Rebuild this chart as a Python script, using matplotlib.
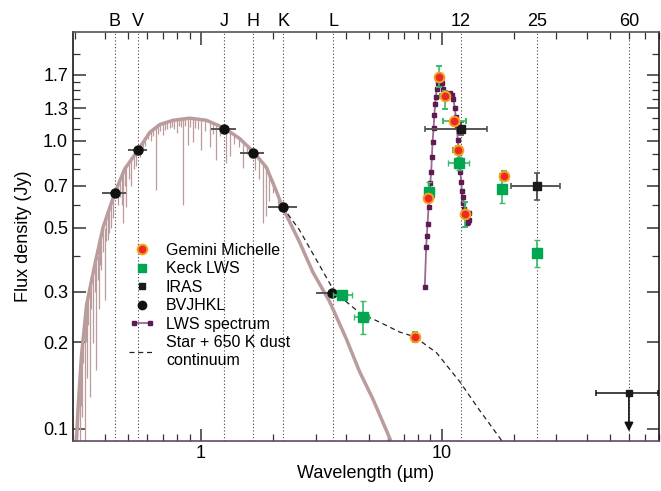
import numpy as np
import matplotlib.pyplot as plt
from matplotlib.lines import Line2D
from matplotlib.legend_handler import HandlerLine2D
from matplotlib.ticker import FixedLocator, FixedFormatter, NullFormatter

plt.rcParams['font.family'] = ['Liberation Sans', 'DejaVu Sans']

# stellar photosphere (centre of the band)
star_wl = [0.290, 0.300, 0.310, 0.320, 0.336, 0.363, 0.393, 0.440, 0.484, 0.550, 0.614,
           0.676, 0.768, 0.900, 1.056, 1.250, 1.451, 1.650, 1.874, 2.061, 2.195, 2.575,
           2.925, 3.430, 4.020, 4.570, 5.190, 6.090, 7.000]
star_flux = [0.050, 0.070, 0.120, 0.180, 0.270, 0.370, 0.500, 0.660, 0.800, 0.930, 1.070,
             1.140, 1.180, 1.200, 1.180, 1.110, 1.020, 0.920, 0.810, 0.670, 0.585, 0.445,
             0.350, 0.277, 0.206, 0.158, 0.127, 0.093, 0.070]

# absorption features in the photosphere: wavelength, top, bottom
line_wl = [0.303, 0.306, 0.311, 0.315, 0.318, 0.322, 0.326, 0.330, 0.334, 0.338, 0.342,
           0.346, 0.351, 0.357, 0.363, 0.369, 0.374, 0.378, 0.383, 0.387, 0.393, 0.400,
           0.406, 0.412, 0.418, 0.425, 0.432, 0.453, 0.462, 0.470, 0.476, 0.484, 0.492,
           0.503, 0.516, 0.528, 0.540, 0.562, 0.576, 0.590, 0.603, 0.620, 0.635, 0.650,
           0.665, 0.680, 0.696, 0.712, 0.728, 0.744, 0.760, 0.778, 0.795, 0.812, 0.830,
           0.845, 0.865, 0.883, 0.905, 0.926, 0.950, 0.975, 1.007, 1.040, 1.090, 1.120,
           1.154, 1.200, 1.270, 1.320, 1.380, 1.440, 1.500, 1.560, 1.620, 1.675, 1.740,
           1.810, 1.870, 1.930, 2.000, 2.100]
line_top = [0.080, 0.100, 0.120, 0.150, 0.165, 0.190, 0.215, 0.240, 0.260, 0.280, 0.290,
            0.300, 0.320, 0.340, 0.360, 0.380, 0.400, 0.420, 0.440, 0.460, 0.490, 0.500,
            0.530, 0.550, 0.580, 0.600, 0.630, 0.690, 0.720, 0.750, 0.780, 0.800, 0.820,
            0.850, 0.880, 0.900, 0.920, 0.960, 1.000, 1.030, 1.060, 1.090, 1.110, 1.120,
            1.140, 1.150, 1.150, 1.160, 1.170, 1.170, 1.180, 1.180, 1.180, 1.190, 1.190,
            1.190, 1.200, 1.200, 1.200, 1.200, 1.200, 1.190, 1.190, 1.180, 1.170, 1.160,
            1.150, 1.130, 1.100, 1.080, 1.060, 1.030, 1.000, 0.970, 0.940, 0.910, 0.880,
            0.840, 0.810, 0.770, 0.730, 0.650]
line_bot = [0.085, 0.085, 0.100, 0.085, 0.120, 0.110, 0.170, 0.085, 0.200, 0.150, 0.230,
            0.129, 0.260, 0.199, 0.300, 0.160, 0.330, 0.260, 0.370, 0.356, 0.410, 0.280,
            0.450, 0.453, 0.480, 0.500, 0.540, 0.600, 0.640, 0.600, 0.519, 0.700, 0.590,
            0.740, 0.700, 0.800, 0.820, 0.880, 0.930, 0.960, 1.020, 1.000, 1.040, 0.676,
            1.060, 1.080, 1.050, 1.090, 1.100, 1.110, 1.120, 1.100, 1.070, 1.130, 1.120,
            0.600, 1.130, 0.968, 1.120, 0.990, 1.110, 1.100, 0.930, 1.080, 0.955, 1.060,
            0.859, 1.040, 0.839, 0.890, 0.980, 0.950, 0.806, 0.900, 0.870, 0.793, 0.740,
            0.520, 0.550, 0.620, 0.660, 0.600]

# star + 650 K dust continuum
cont_wl = [2.19, 2.57, 3.60, 4.57, 5.53, 6.70, 7.73, 9.53, 11.9, 14.4, 17.7, 19.0]
cont_flux = [0.590, 0.491, 0.299, 0.253, 0.235, 0.217, 0.209, 0.184, 0.146, 0.116, 0.0916, 0.082]

# Keck LWS spectrum
lws_wl = [8.52, 8.64, 8.69, 8.75, 8.84, 8.92, 8.98, 9.06, 9.12, 9.18, 9.27, 9.33, 9.42,
          9.47, 9.56, 9.66, 9.72, 9.82, 9.91, 10.03, 10.15, 10.29, 10.45, 10.62, 10.75,
          10.89, 11.07, 11.21, 11.35, 11.46, 11.57, 11.68, 11.80, 11.96, 12.08, 12.14,
          12.26, 12.30, 12.45, 12.65, 12.85, 13.06, 12.95, 12.75]
lws_flux = [0.310, 0.430, 0.469, 0.514, 0.590, 0.661, 0.713, 0.782, 0.878, 0.994, 1.107,
            1.228, 1.344, 1.425, 1.510, 1.586, 1.651, 1.640, 1.619, 1.586, 1.520, 1.464,
            1.450, 1.445, 1.455, 1.464, 1.445, 1.396, 1.299, 1.214, 1.121, 1.010, 0.906,
            0.782, 0.722, 0.670, 0.638, 0.608, 0.580, 0.546, 0.524, 0.532, 0.560, 0.520]

# Gemini Michelle photometry
gem_wl = [7.73, 8.83, 9.72, 10.29, 11.30, 11.70, 12.56, 18.1]
gem_flux = [0.209, 0.632, 1.67, 1.436, 1.17, 0.93, 0.558, 0.755]
gem_flux_lo = [0.008, 0.020, 0.13, 0.14, 0.03, 0.03, 0.055, 0.03]
gem_flux_hi = [0.008, 0.020, 0.15, 0.06, 0.03, 0.03, 0.056, 0.03]
gem_wl_lo = [0.15, 0.30, 0.0, 0.40, 1.20, 0.50, 0.45, 0.60]
gem_wl_hi = [0.15, 0.30, 0.0, 0.50, 1.30, 0.50, 0.35, 0.60]

# Keck LWS photometry
keck_wl = [3.85, 4.70, 8.90, 11.8, 17.9, 24.9]
keck_flux = [0.292, 0.245, 0.667, 0.837, 0.68, 0.408]
keck_flux_lo = [0.009, 0.031, 0.027, 0.047, 0.07, 0.043]
keck_flux_hi = [0.008, 0.033, 0.053, 0.043, 0.05, 0.045]
keck_wl_lo = [0.32, 0.35, 0.30, 1.20, 0.0, 0.0]
keck_wl_hi = [0.39, 0.30, 0.30, 1.20, 0.0, 0.0]

# IRAS
iras_wl = [12, 25]
iras_flux = [1.10, 0.70]
iras_flux_lo = [0.05, 0.076]
iras_flux_hi = [0.06, 0.074]
iras_wl_lo = [3.5, 5.5]
iras_wl_hi = [3.5, 5.9]
iras_lim_wl = 60
iras_lim_flux = 0.133
iras_lim_arrow = 0.098
iras_lim_wl_lo = 16
iras_lim_wl_hi = 19

# BVJHKL photometry
band_wl = [0.44, 0.55, 1.25, 1.65, 2.2, 3.5]
band_flux = [0.66, 0.93, 1.10, 0.91, 0.59, 0.296]
band_wl_lo = [0.39, 0.50, 1.10, 1.45, 1.90, 3.0]
band_wl_hi = [0.49, 0.60, 1.40, 1.84, 2.52, 4.07]

# filter positions marked along the top
filt_names = ['B', 'V', 'J', 'H', 'K', 'L', '12', '25', '60']
filt_wl = [0.44, 0.55, 1.25, 1.65, 2.2, 3.55, 12, 25, 60]

y_major = [0.1, 0.2, 0.3, 0.5, 0.7, 1.0, 1.3, 1.7]
y_major_labels = ['0.1', '0.2', '0.3', '0.5', '0.7', '1.0', '1.3', '1.7']
y_minor = [0.4, 0.6, 0.8, 0.9, 1.1, 1.2, 1.4, 1.5, 1.6, 2.0]

star_col = '#bb9c9d'
green = '#00a650'
green_err = '#3cb868'
purple_line = '#9a6a92'
purple_mk = '#5e1a52'

fig = plt.figure(figsize=(6.61, 4.91), dpi=100)
ax = fig.add_axes([0.1104, 0.1018, 0.8866, 0.833])
ax.set_xscale('log')
ax.set_yscale('log')
ax.set_xlim(0.295, 80)
ax.set_ylim(0.0908, 2.39)

for w in filt_wl:
    ax.axvline(w, color='#444444', lw=0.8, ls=(0, (1, 2)), zorder=1)
for w, name in zip(filt_wl, filt_names):
    ax.text(w, 1.006, name, transform=ax.get_xaxis_transform(), ha='center', va='bottom',
            fontsize=13)

# photosphere
ax.plot(star_wl, star_flux, color=star_col, lw=2.5, solid_capstyle='butt', zorder=2)
ax.vlines(line_wl, line_bot, line_top, color=star_col, lw=0.9, zorder=2)

# dust continuum
ax.plot(cont_wl, cont_flux, color='#222222', lw=0.9, ls=(0, (4, 3)), zorder=3)

# LWS spectrum
ax.plot(lws_wl, lws_flux, color=purple_line, lw=1.3, marker='s', ms=2.8,
        mfc=purple_mk, mec=purple_mk, zorder=4)

# photometry
ax.errorbar(band_wl, band_flux,
            xerr=[np.subtract(band_wl, band_wl_lo), np.subtract(band_wl_hi, band_wl)],
            fmt='o', ms=6.5, color='#111111', ecolor='#555555', elinewidth=1.4,
            capsize=0, zorder=6)
ax.errorbar(iras_wl, iras_flux, xerr=[iras_wl_lo, iras_wl_hi],
            yerr=[iras_flux_lo, iras_flux_hi], fmt='s', ms=6, color='#1a1a1a',
            ecolor='#555555', elinewidth=1.4, capsize=2.5, capthick=1.2, zorder=6)
ax.errorbar([iras_lim_wl], [iras_lim_flux], xerr=[[iras_lim_wl_lo], [iras_lim_wl_hi]],
            fmt='s', ms=5, color='#1a1a1a', ecolor='#111111', elinewidth=1.1,
            capsize=2.5, capthick=1.1, zorder=6)
ax.annotate('', xy=(iras_lim_wl, iras_lim_arrow), xytext=(iras_lim_wl, iras_lim_flux),
            arrowprops=dict(arrowstyle='-|>', color='#111111', lw=1.2,
                            mutation_scale=13, shrinkA=0, shrinkB=0), zorder=6)
ax.errorbar(keck_wl, keck_flux, xerr=[keck_wl_lo, keck_wl_hi],
            yerr=[keck_flux_lo, keck_flux_hi], fmt='s', ms=6.5, color=green,
            ecolor=green_err, elinewidth=1.2, capsize=2.5, capthick=1.0, zorder=7)
ax.errorbar(gem_wl, gem_flux, xerr=[gem_wl_lo, gem_wl_hi],
            yerr=[gem_flux_lo, gem_flux_hi], fmt='o', ms=7, mfc='#ec2a25',
            mec='#f5a21c', mew=1.4, ecolor=green_err, elinewidth=1.2, capsize=2.5,
            capthick=1.0, zorder=8)

# axes styling
for side in ['left', 'right']:
    ax.spines[side].set_color('#1a1a1a')
for side in ['top', 'bottom']:
    ax.spines[side].set_color('#5d4c62')
for sp in ax.spines.values():
    sp.set_linewidth(1.2)

ax.xaxis.set_major_locator(FixedLocator([1, 10]))
ax.xaxis.set_major_formatter(FixedFormatter(['1', '10']))
ax.xaxis.set_minor_locator(FixedLocator([0.3, 0.4, 0.5, 0.6, 0.7, 0.8, 0.9, 2, 3, 4, 5, 6,
                                         7, 8, 9, 20, 30, 40, 50, 60, 70, 80]))
ax.xaxis.set_minor_formatter(NullFormatter())
ax.yaxis.set_major_locator(FixedLocator(y_major))
ax.yaxis.set_major_formatter(FixedFormatter(y_major_labels))
ax.yaxis.set_minor_locator(FixedLocator(y_minor))
ax.yaxis.set_minor_formatter(NullFormatter())
ax.tick_params(which='both', direction='in', top=True, right=True, color='#333333',
               labelsize=13)
ax.tick_params(which='major', length=9, width=1.1)
ax.tick_params(which='minor', length=5, width=0.9)
ax.tick_params(axis='x', pad=3)

ax.set_xlabel('Wavelength (µm)', fontsize=13, labelpad=2)
ax.set_ylabel('Flux density (Jy)', fontsize=13, labelpad=8)

handles = [
    Line2D([], [], ls='none', marker='o', ms=7, mfc='#ec2a25', mec='#f5a21c', mew=1.4),
    Line2D([], [], ls='none', marker='s', ms=6, color=green),
    Line2D([], [], ls='none', marker='s', ms=5, color='#1a1a1a'),
    Line2D([], [], ls='none', marker='o', ms=6, color='#111111'),
    Line2D([], [], color=purple_line, lw=1.3, marker='s', ms=2.8, mfc=purple_mk,
           mec=purple_mk),
    Line2D([], [], color='#222222', lw=0.9, ls=(0, (4, 3))),
]
labels = ['Gemini Michelle', 'Keck LWS', 'IRAS', 'BVJHKL', 'LWS spectrum',
          'Star + 650 K dust\ncontinuum']
ax.legend(handles, labels, loc='upper left', bbox_to_anchor=(0.085, 0.50),
          frameon=False, fontsize=11.5, numpoints=1, handlelength=1.6,
          handletextpad=0.7, labelspacing=0.22, borderaxespad=0,
          handler_map={handles[4]: HandlerLine2D(numpoints=2)})

fig.savefig('out.png', dpi=100)
